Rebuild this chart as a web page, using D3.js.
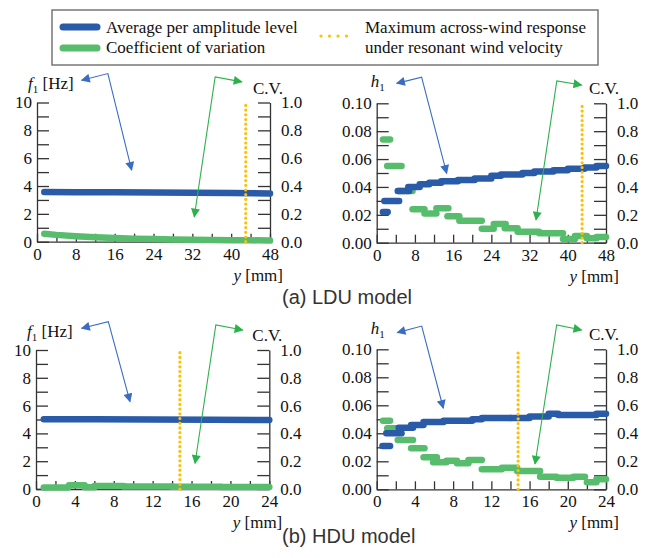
<!DOCTYPE html>
<html>
<head>
<meta charset="utf-8">
<script src="https://cdn.jsdelivr.net/npm/d3@7"></script>
<style>
  body { margin: 0; background: #fff; }
  svg { display: block; }
</style>
</head>
<body>
<div id="chart"></div>
<script>
// ---- data ----
// LDU model, y in mm
const lduF1Y = [1.5, 8, 16, 24, 32, 40, 48];
const lduF1 = [3.57, 3.56, 3.55, 3.53, 3.51, 3.49, 3.47];
const lduCvFY = [1.5, 4, 8, 12, 16, 20, 24, 28, 32, 36, 40, 44, 48];
const lduCvF = [0.057, 0.049, 0.040, 0.032, 0.026, 0.022, 0.019, 0.016, 0.014, 0.012, 0.011, 0.010, 0.008];
// [from, to, value] steps
const lduH1 = [[1.3, 2.3, 0.022], [1.6, 4.7, 0.030], [4.4, 6.8, 0.037], [6.6, 9.0, 0.040],
  [9.0, 11, 0.042], [11, 13.5, 0.043], [13.5, 17, 0.044], [17, 20.5, 0.045], [20.5, 24, 0.046],
  [24, 26, 0.048], [26, 30.5, 0.049], [30.5, 33, 0.050], [33, 37, 0.051], [37, 40, 0.052],
  [40, 43.5, 0.053], [43.5, 46, 0.054], [46, 48, 0.055]];
const lduCvH = [[1.3, 2.8, 0.74], [2.2, 5.2, 0.55], [4.5, 7.5, 0.37], [7.5, 10, 0.24],
  [10, 12.5, 0.21], [12.5, 15, 0.247], [14.8, 17.3, 0.19], [17.3, 22, 0.157], [22, 24.5, 0.10],
  [24.5, 27, 0.135], [26.8, 29.5, 0.103], [29.5, 34, 0.079], [34, 39, 0.067], [39, 41.5, 0.026],
  [41.5, 44, 0.048], [44, 46, 0.032], [46, 48, 0.040]];
const lduResonant = 43;

// HDU model
const hduF1Y = [0.8, 6, 12, 18, 24];
const hduF1 = [5.02, 5.01, 5.0, 4.98, 4.97];
const hduCvF = [[0.8, 3.3, 0.010], [3.4, 5.0, 0.027], [5.0, 6.0, 0.013], [6.0, 9, 0.021],
  [9, 14, 0.018], [14, 19, 0.016], [19, 24, 0.014]];
const hduH1 = [[0.6, 1.4, 0.031], [1.0, 2.6, 0.040], [2.3, 3.8, 0.044], [3.6, 4.9, 0.046],
  [4.9, 7, 0.048], [7, 10, 0.049], [10, 11, 0.050], [11, 14, 0.051], [14, 16, 0.051],
  [16, 18, 0.052], [18, 19, 0.054], [19, 23, 0.053], [23, 24, 0.054]];
const hduCvH = [[0.65, 1.4, 0.49], [1.1, 2.6, 0.436], [2.2, 3.8, 0.352], [3.6, 5.0, 0.293],
  [4.9, 6.3, 0.229], [5.9, 7.3, 0.193], [7.3, 8.4, 0.204], [8.4, 9.6, 0.186], [9.6, 11, 0.209],
  [11, 13.1, 0.143], [13.1, 14.7, 0.154], [14.7, 17.1, 0.131], [17.1, 18.8, 0.090],
  [18.8, 20.6, 0.083], [20.6, 21.8, 0.090], [22, 23, 0.050], [23, 24, 0.071]];
const hduResonant = 14.8;

const legendLabels = ['Average per amplitude level', 'Coefficient of variation'];
const legendLabels2 = ['Maximum across-wind response', 'under resonant wind velocity'];
const captions = ['(a) LDU model', '(b) HDU model'];

// annotation arrows, [y mm, fraction of axis height]
const arrowsLdu1 = {blue: [[9.2, 1.16], [14.6, 1.208], [19.5, 0.514]], green: [[42.2, 1.148], [36.7, 1.184], [32.4, 0.179]]};
const arrowsLdu2 = {blue: [[4.2, 1.143], [9.4, 1.187], [14.65, 0.498]], green: [[42.9, 1.131], [37.7, 1.16], [33.35, 0.163]]};
const arrowsHdu1 = {blue: [[4.7, 1.156], [7.44, 1.204], [9.67, 0.628]], green: [[21.27, 1.144], [18.5, 1.18], [16.36, 0.185]]};
const arrowsHdu2 = {blue: [[2.16, 1.119], [4.71, 1.166], [6.97, 0.579]], green: [[21.45, 1.138], [18.84, 1.174], [16.57, 0.181]]};

const BLUE = '#2a5ba8', GREEN = '#57bd6d', ORANGE = '#ffc000';
const ARROW_BLUE = '#3a6cc2', ARROW_GREEN = '#2db14c';
const SERIF = "'Liberation Serif', 'Times New Roman', serif";
const W = 654, H = 558;

const svg = d3.select('#chart').append('svg')
  .attr('width', W).attr('height', H);

// arrow markers
const defs = svg.append('defs');
[['ab', ARROW_BLUE], ['ag', ARROW_GREEN]].forEach(([id, c]) => {
  defs.append('marker')
    .attr('id', id)
    .attr('viewBox', '0 0 10 10')
    .attr('refX', 9).attr('refY', 5)
    .attr('markerUnits', 'userSpaceOnUse')
    .attr('markerWidth', 12).attr('markerHeight', 9)
    .attr('orient', 'auto-start-reverse')
    .append('path')
    .attr('d', 'M0,0L10,5L0,10z')
    .attr('fill', c);
});

const panels = [
  {left: 37, right: 270, top: 102.5, bottom: 241.7, xMax: 48, xStep: 4, xLab: 8,
   lMax: 10, lStep: 1, lLab: 2, fmt: d3.format('d'), lVar: 'f', lUnit: ' [Hz]', lDx: -9, lDy: -14,
   blueLine: [lduF1Y, lduF1], greenLine: [lduCvFY, lduCvF], resonant: lduResonant, arrows: arrowsLdu1},
  {left: 376.7, right: 606, top: 103.3, bottom: 242.7, xMax: 48, xStep: 4, xLab: 8,
   lMax: 0.1, lStep: 0.01, lLab: 0.02, fmt: d3.format('.2f'), lVar: 'h', lUnit: '', lDx: -6, lDy: -16.5,
   blueSteps: lduH1, greenSteps: lduCvH, resonant: lduResonant, arrows: arrowsLdu2},
  {left: 36, right: 269.3, top: 350, bottom: 489, xMax: 24, xStep: 2, xLab: 4,
   lMax: 10, lStep: 1, lLab: 2, fmt: d3.format('d'), lVar: 'f', lUnit: ' [Hz]', lDx: -9, lDy: -13.5,
   blueLine: [hduF1Y, hduF1], greenSteps: hduCvF, resonant: hduResonant, arrows: arrowsHdu1},
  {left: 376.7, right: 606, top: 349.3, bottom: 489.3, xMax: 24, xStep: 2, xLab: 4,
   lMax: 0.1, lStep: 0.01, lLab: 0.02, fmt: d3.format('.2f'), lVar: 'h', lUnit: '', lDx: -6, lDy: -15.5,
   blueSteps: hduH1, greenSteps: hduCvH, resonant: hduResonant, arrows: arrowsHdu2}
];

function near(v, step) {
  return Math.abs(v / step - Math.round(v / step)) < 1e-6;
}

function styleAxis(g) {
  g.select('.domain').attr('stroke', '#333').attr('stroke-width', 1.3);
  g.selectAll('.tick line').attr('stroke', '#333').attr('stroke-width', 1.3);
  g.selectAll('.tick text')
    .style('font-family', SERIF)
    .style('font-size', '17px')
    .attr('fill', '#111');
}

function drawPanel(p) {
  const sx = d3.scaleLinear().domain([0, p.xMax]).range([p.left, p.right]);
  const sl = d3.scaleLinear().domain([0, p.lMax]).range([p.bottom, p.top]);
  const sr = d3.scaleLinear().domain([0, 1]).range([p.bottom, p.top]);
  const g = svg.append('g');

  // axes, ticks pointing inward
  g.append('g')
    .attr('transform', 'translate(0,' + p.bottom + ')')
    .call(d3.axisBottom(sx)
      .tickValues(d3.range(0, p.xMax + 0.001, p.xStep))
      .tickFormat((d) => near(d, p.xLab) ? d : '')
      .tickSizeInner(-8).tickSizeOuter(0).tickPadding(6))
    .call(styleAxis);

  g.append('g')
    .attr('transform', 'translate(' + p.left + ',0)')
    .call(d3.axisLeft(sl)
      .tickValues(d3.range(0, p.lMax + p.lStep / 2, p.lStep))
      .tickFormat((d) => near(d, p.lLab) ? p.fmt(d) : '')
      .tickSizeInner(-12).tickSizeOuter(0).tickPadding(5))
    .call(styleAxis);

  g.append('g')
    .attr('transform', 'translate(' + p.right + ',0)')
    .call(d3.axisRight(sr)
      .tickValues(d3.range(0, 1.05, 0.1))
      .tickFormat((d) => near(d, 0.2) ? d3.format('.1f')(d) : '')
      .tickSizeInner(-12).tickSizeOuter(0).tickPadding(11))
    .call(styleAxis);

  // series: green under blue
  const line = d3.line();
  function drawLine(arr, ys, color) {
    g.append('path')
      .attr('d', line(arr[0].map((x, i) => [sx(x), ys(arr[1][i])])))
      .attr('fill', 'none').attr('stroke', color)
      .attr('stroke-width', 6.5).attr('stroke-linecap', 'round').attr('stroke-linejoin', 'round');
  }
  function drawSteps(steps, ys, color) {
    g.selectAll(null)
      .data(steps)
      .enter()
      .append('line')
      .attr('x1', (d) => sx(d[0])).attr('x2', (d) => sx(d[1]))
      .attr('y1', (d) => ys(d[2])).attr('y2', (d) => ys(d[2]))
      .attr('stroke', color).attr('stroke-width', 6.5).attr('stroke-linecap', 'round');
  }
  if (p.greenLine) drawLine(p.greenLine, sr, GREEN);
  if (p.greenSteps) drawSteps(p.greenSteps, sr, GREEN);
  if (p.blueLine) drawLine(p.blueLine, sl, BLUE);
  if (p.blueSteps) drawSteps(p.blueSteps, sl, BLUE);

  // resonant wind velocity marker
  g.append('line')
    .attr('x1', sx(p.resonant)).attr('x2', sx(p.resonant))
    .attr('y1', sr(0)).attr('y2', sr(1))
    .attr('stroke', ORANGE).attr('stroke-width', 3.2)
    .attr('stroke-linecap', 'round').attr('stroke-dasharray', '0 4.7');

  // annotation arrows
  [['blue', 'ab', ARROW_BLUE], ['green', 'ag', ARROW_GREEN]].forEach(([k, m, c]) => {
    g.append('path')
      .attr('d', line(p.arrows[k].map((d) => [sx(d[0]), sr(d[1])])))
      .attr('fill', 'none').attr('stroke', c).attr('stroke-width', 1.1)
      .attr('marker-start', 'url(#' + m + ')')
      .attr('marker-end', 'url(#' + m + ')');
  });

  // axis titles
  const lt = g.append('text')
    .attr('x', p.left + p.lDx).attr('y', p.top + p.lDy)
    .style('font-family', SERIF).style('font-size', '17px').attr('fill', '#111');
  lt.append('tspan').attr('font-style', 'italic').text(p.lVar);
  lt.append('tspan').style('font-size', '11px').attr('dy', 4).text('1');
  if (p.lUnit) lt.append('tspan').attr('dy', -4).text(p.lUnit);

  g.append('text')
    .attr('x', p.right - 17).attr('y', p.top - 9)
    .style('font-family', SERIF).style('font-size', '17px').attr('fill', '#111')
    .text('C.V.');

  const xt = g.append('text')
    .attr('x', p.right + 13).attr('y', p.bottom + 39)
    .attr('text-anchor', 'end')
    .style('font-family', SERIF).style('font-size', '17px').attr('fill', '#111');
  xt.append('tspan').attr('font-style', 'italic').text('y');
  xt.append('tspan').text(' [mm]');
}

panels.forEach(drawPanel);

// captions
svg.selectAll('.caption')
  .data(captions)
  .enter()
  .append('text')
  .attr('class', 'caption')
  .attr('x', 282)
  .attr('y', (d, i) => i === 0 ? 304 : 543)
  .style('font-family', "'Liberation Sans', Arial, sans-serif")
  .style('font-size', '20px')
  .attr('fill', '#333')
  .text((d) => d);

// legend
const lg = svg.append('g');
lg.append('rect')
  .attr('x', 52).attr('y', 10).attr('width', 546).attr('height', 55)
  .attr('fill', '#fff').attr('stroke', '#777').attr('stroke-width', 1.5);
[BLUE, GREEN].forEach((c, i) => {
  lg.append('line')
    .attr('x1', 63).attr('x2', 97)
    .attr('y1', 27 + i * 21).attr('y2', 27 + i * 21)
    .attr('stroke', c).attr('stroke-width', 7).attr('stroke-linecap', 'round');
});
lg.selectAll('.lt1')
  .data(legendLabels)
  .enter()
  .append('text')
  .attr('x', 106).attr('y', (d, i) => 33 + i * 20)
  .style('font-family', SERIF).style('font-size', '17px').attr('fill', '#111')
  .text((d) => d);
lg.append('line')
  .attr('x1', 321).attr('x2', 347).attr('y1', 36).attr('y2', 36)
  .attr('stroke', ORANGE).attr('stroke-width', 3.2)
  .attr('stroke-linecap', 'round').attr('stroke-dasharray', '0 8.5');
lg.selectAll('.lt2')
  .data(legendLabels2)
  .enter()
  .append('text')
  .attr('x', 365).attr('y', (d, i) => 33 + i * 20)
  .style('font-family', SERIF).style('font-size', '17px').attr('fill', '#111')
  .text((d) => d);
</script>
</body>
</html>
